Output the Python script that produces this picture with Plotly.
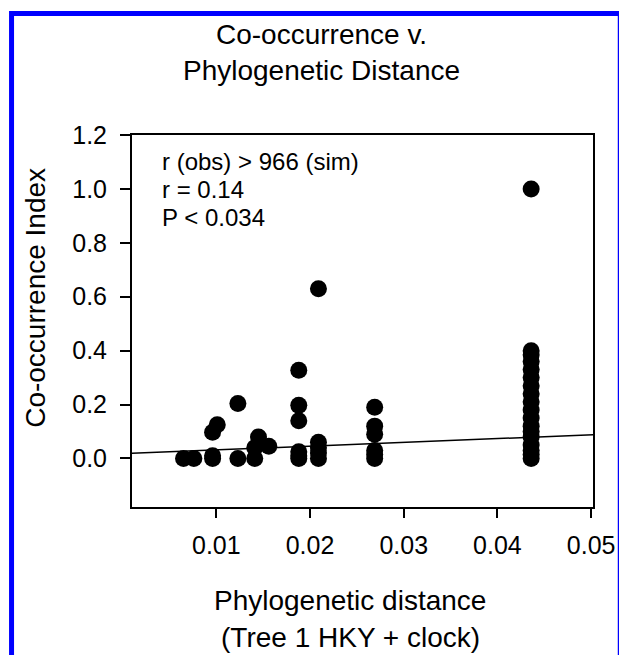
import plotly.graph_objects as go

# ---- data ----
dist_x = [0.0065, 0.0076,
          0.0096, 0.0096, 0.0096, 0.0101,
          0.0123, 0.0123,
          0.0141, 0.0141, 0.0145, 0.0156,
          0.0188, 0.0188, 0.0188, 0.0188, 0.0188, 0.0188,
          0.0209, 0.0209, 0.0209, 0.0209, 0.0209,
          0.0269, 0.0269, 0.0269, 0.0269, 0.0269, 0.0269,
          0.0436, 0.0436, 0.0436, 0.0436, 0.0436, 0.0436, 0.0436, 0.0436, 0.0436,
          0.0436, 0.0436, 0.0436, 0.0436, 0.0436, 0.0436, 0.0436, 0.0436, 0.0436]
cooc_y = [0.0, 0.0,
          0.0, 0.01, 0.097, 0.125,
          0.0, 0.204,
          0.0, 0.04, 0.08, 0.045,
          0.0, 0.01, 0.025, 0.14, 0.197, 0.327,
          0.0, 0.02, 0.04, 0.06, 0.63,
          0.0, 0.015, 0.03, 0.09, 0.12, 0.19,
          0.0, 0.015, 0.03, 0.05, 0.08, 0.10, 0.12, 0.15, 0.18,
          0.21, 0.24, 0.27, 0.30, 0.33, 0.36, 0.385, 0.40, 1.0]
fit_x = [0.001, 0.0502]
fit_y = [0.019, 0.088]
x_ticks = [0.01, 0.02, 0.03, 0.04, 0.05]
x_tick_labels = ["0.01", "0.02", "0.03", "0.04", "0.05"]
y_ticks = [0.0, 0.2, 0.4, 0.6, 0.8, 1.0, 1.2]
y_tick_labels = ["0.0", "0.2", "0.4", "0.6", "0.8", "1.0", "1.2"]
stats_lines = ["r (obs) > 966 (sim)", "r = 0.14", "P < 0.034"]

# ---- layout geometry (window pixels; page body adds an 8px offset) ----
OFF = 8
W, H = 627, 655
L, R, T, B = 132, 597, 135, 507
pw, ph = R - L, B - T


def px(x):
    return (x - L) / pw


def py(y):
    return (B - y) / ph


FONT = "Liberation Sans, Arial, sans-serif"

fig = go.Figure()
fig.add_trace(go.Scatter(x=fit_x, y=fit_y, mode="lines",
                         line=dict(color="black", width=1.5),
                         hoverinfo="skip", showlegend=False))
fig.add_trace(go.Scatter(x=dist_x, y=cooc_y, mode="markers",
                         marker=dict(color="black", size=17, line=dict(width=0)),
                         showlegend=False))

axis_common = dict(showline=True, linecolor="black", linewidth=2, mirror=True,
                   ticks="outside", tickcolor="black", tickwidth=1.5,
                   showgrid=False, zeroline=False,
                   tickfont=dict(family=FONT, size=25, color="black"))

fig.update_xaxes(range=[0.001, 0.0502], tickvals=x_ticks, ticktext=x_tick_labels,
                 ticklen=9, ticklabelstandoff=6, **axis_common)
fig.update_yaxes(range=[-0.18, 1.2], tickvals=y_ticks, ticktext=y_tick_labels,
                 ticklen=10, ticklabelstandoff=8, **axis_common)

ann = []
ann.append(dict(text="Co-occurrence v.", x=px(323), y=py(34)))
ann.append(dict(text="Phylogenetic Distance", x=px(323), y=py(71)))
ann.append(dict(text="Phylogenetic distance", x=px(352), y=py(600)))
ann.append(dict(text="(Tree 1 HKY + clock)", x=px(352), y=py(637)))
annotations = []
for a in ann:
    annotations.append(dict(xref="paper", yref="paper", showarrow=False,
                            xanchor="center", yanchor="middle",
                            font=dict(family=FONT, size=28, color="black"), **a))
annotations.append(dict(xref="paper", yref="paper", showarrow=False,
                        text="Co-occurrence Index", textangle=-90,
                        x=px(34), y=py(298), xanchor="center", yanchor="middle",
                        font=dict(family=FONT, size=28, color="black")))
for i, s in enumerate(stats_lines):
    annotations.append(dict(xref="paper", yref="paper", showarrow=False,
                            text=s, x=px(160), y=py(161 + 28 * i),
                            xanchor="left", yanchor="middle",
                            font=dict(family=FONT, size=24, color="black")))

fig.update_layout(
    width=W - OFF, height=H - OFF,
    margin=dict(l=L - OFF, r=W - R, t=T - OFF, b=H - B, pad=0),
    paper_bgcolor="white", plot_bgcolor="white",
    annotations=annotations,
    shapes=[dict(type="rect", xref="paper", yref="paper",
                 x0=px(10.5), x1=px(624.5), y0=py(13.5), y1=py(670),
                 line=dict(color="#0000FF", width=5), fillcolor="rgba(0,0,0,0)",
                 layer="above")],
)

fig.write_html("out.html")
